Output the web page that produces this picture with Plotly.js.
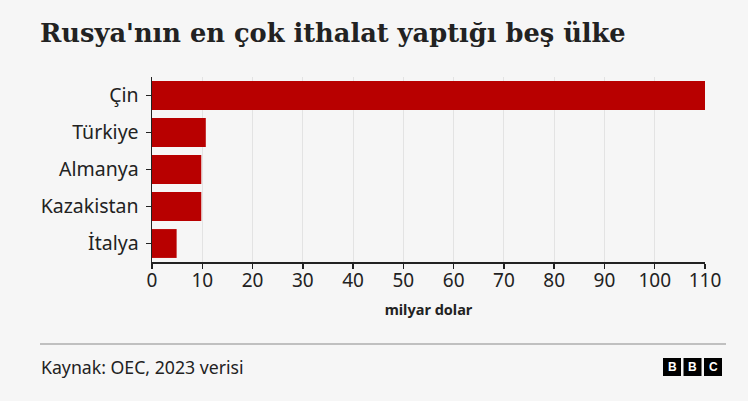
<!DOCTYPE html>
<html>
<head>
<meta charset="utf-8">
<script src="https://cdn.plot.ly/plotly-3.0.1.min.js"></script>
<style>
html,body{margin:0;padding:0;background:#f6f6f6;}
#chart{width:748px;height:401px;}
</style>
</head>
<body>
<div id="chart"></div>
<script>
const countries = ["Çin", "Türkiye", "Almanya", "Kazakistan", "İtalya"];
const imports = [110, 10.7, 9.8, 9.8, 4.9];
const xTicks = [0, 10, 20, 30, 40, 50, 60, 70, 80, 90, 100, 110];

const W = 748, H = 401;
const ml = 152, mr = 43, mt = 77, mb = 139;
const pw = W - ml - mr, ph = H - mt - mb;
function px(x){ return (x - ml) / pw; }
function py(y){ return (H - mb - y) / ph; }

const trace = {
  type: "bar",
  orientation: "h",
  x: imports,
  y: countries,
  marker: {color: "#b80000"},
  hoverinfo: "x+y"
};

const logoLetters = ["B", "B", "C"];
const shapes = [
  {type: "line", xref: "paper", yref: "paper", x0: px(40), x1: px(726), y0: py(344), y1: py(344),
   line: {color: "#8a8a8a", width: 1}}
];
const annotations = [
  {text: "<b>Rusya'nın en çok ithalat yaptığı beş ülke</b>", xref: "paper", yref: "paper",
   x: px(38), y: py(33), xanchor: "left", yanchor: "middle", showarrow: false,
   font: {family: "DejaVu Serif, serif", size: 25.7, color: "#222222"}},
  {text: "Kaynak: OEC, 2023 verisi", xref: "paper", yref: "paper",
   x: px(39), y: py(367), xanchor: "left", yanchor: "middle", showarrow: false,
   font: {family: "Noto Sans, Open Sans, sans-serif", size: 17.7, color: "#222222"}}
];
logoLetters.forEach(function(l, i){
  const x0 = 663 + i * 20.5, x1 = x0 + 18;
  shapes.push({type: "rect", xref: "paper", yref: "paper", x0: px(x0), x1: px(x1), y0: py(376), y1: py(358),
    fillcolor: "#000000", line: {width: 0}});
  annotations.push({text: "<b>" + l + "</b>", xref: "paper", yref: "paper",
    x: px((x0 + x1) / 2), y: py(367), xanchor: "center", yanchor: "middle", showarrow: false,
    font: {family: "Liberation Sans, Arial, sans-serif", size: 12, color: "#ffffff"}});
});

const layout = {
  width: W, height: H,
  paper_bgcolor: "#f6f6f6",
  plot_bgcolor: "#f6f6f6",
  margin: {l: ml, r: mr, t: mt, b: mb, pad: 0},
  showlegend: false,
  bargap: 0.22,
  font: {family: "Noto Sans, Open Sans, sans-serif", color: "#222222"},
  xaxis: {
    range: [0, 110],
    tickvals: xTicks,
    ticktext: xTicks.map(String),
    showgrid: true, gridcolor: "#e3e3e3", gridwidth: 1,
    zeroline: false,
    showline: true, linecolor: "#222222", linewidth: 1.5,
    ticks: "outside", ticklen: 5, tickcolor: "#222222", tickwidth: 1.5,
    tickfont: {size: 19, color: "#222222"},
    ticklabelstandoff: -4,
    title: {text: "<b>milyar dolar</b>", font: {size: 14.5, color: "#222222"}, standoff: 12},
    fixedrange: true
  },
  yaxis: {
    autorange: "reversed",
    showgrid: false, zeroline: false,
    showline: true, linecolor: "#222222", linewidth: 1.5,
    ticks: "outside", ticklen: 5, tickcolor: "#222222", tickwidth: 1.5,
    tickfont: {size: 19.5, color: "#222222"},
    ticklabelstandoff: 3,
    fixedrange: true
  },
  shapes: shapes,
  annotations: annotations
};

Plotly.newPlot("chart", [trace], layout, {displayModeBar: false, staticPlot: true});
</script>
</body>
</html>
